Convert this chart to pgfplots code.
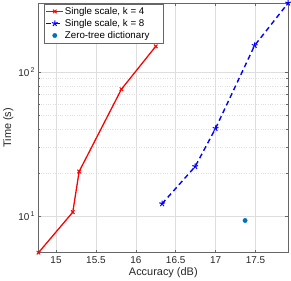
\documentclass[border=0pt]{standalone}
\usepackage{fontspec}
\setmainfont{Liberation Sans}
\usepackage{pgfplots}
\pgfplotsset{compat=1.18}
\definecolor{mblue}{rgb}{0,0.447,0.741}
\begin{document}
\begin{tikzpicture}
\begin{axis}[
  scale only axis, width=251pt, height=251pt,
  xmin=14.78, xmax=17.91, ymode=log, ymin=5.58, ymax=300.6,
  xtick={15,15.5,16,16.5,17,17.5},
  xticklabels={15,15.5,16,16.5,17,17.5},
  ytick={10,100}, yticklabels={10\textsuperscript{\,1},10\textsuperscript{\,2}},
  /pgf/number format/assume math mode=true,
  tick label style={font=\fontsize{10}{12}\selectfont, color=black!85},
  label style={font=\fontsize{11}{13}\selectfont, color=black!85},
  xlabel={Accuracy (dB)}, ylabel={Time (s)},
  xlabel style={yshift=3pt}, ylabel style={yshift=-2pt},
  grid=both, major grid style={black!13, line width=0.4pt},
  minor grid style={black!13, dotted, line width=0.4pt},
  minor x tick num=0,
  tick align=inside, major tick length=3pt, minor tick length=1.8pt,
  axis line style={black!60, line width=0.4pt},
  every tick/.style={black!60},
  legend image code/.code={\draw[mark repeat=2,mark phase=2,#1] plot coordinates {(0pt,0pt) (8.5pt,0pt) (17pt,0pt)};},
  legend style={at={(0.024,0.996)}, anchor=north west, font=\fontsize{9.8}{11}\selectfont,
    draw=black!60, line width=0.4pt, inner xsep=1pt, inner ysep=1.5pt, row sep=0.5pt, cells={anchor=west},
    nodes={inner xsep=1pt, inner ysep=1.5pt}},
  legend cell align=left,
]
\addplot[red, line width=1.3pt, mark=x, mark size=2.5pt, mark options={solid, line width=1pt}]
  coordinates {(14.78,5.58) (15.21,10.65) (15.29,20.4) (15.82,75.9) (16.25,150.4)};
\addlegendentry{Single scale, k = 4}
\addplot[blue, line width=1.4pt, dashed, dash pattern=on 5pt off 3.5pt, mark=star, mark size=3pt, mark options={solid, line width=1pt}]
  coordinates {(16.33,12.2) (16.745,22.1) (17.0,40.6) (17.49,152.7) (17.91,300.6)};
\addlegendentry{Single scale, k = 8}
\addplot[only marks, mark=*, mark size=2.2pt, color=mblue]
  coordinates {(17.37,9.33)};
\addlegendentry{Zero-tree dictionary\hspace*{12pt}}
\end{axis}
\end{tikzpicture}
\end{document}
